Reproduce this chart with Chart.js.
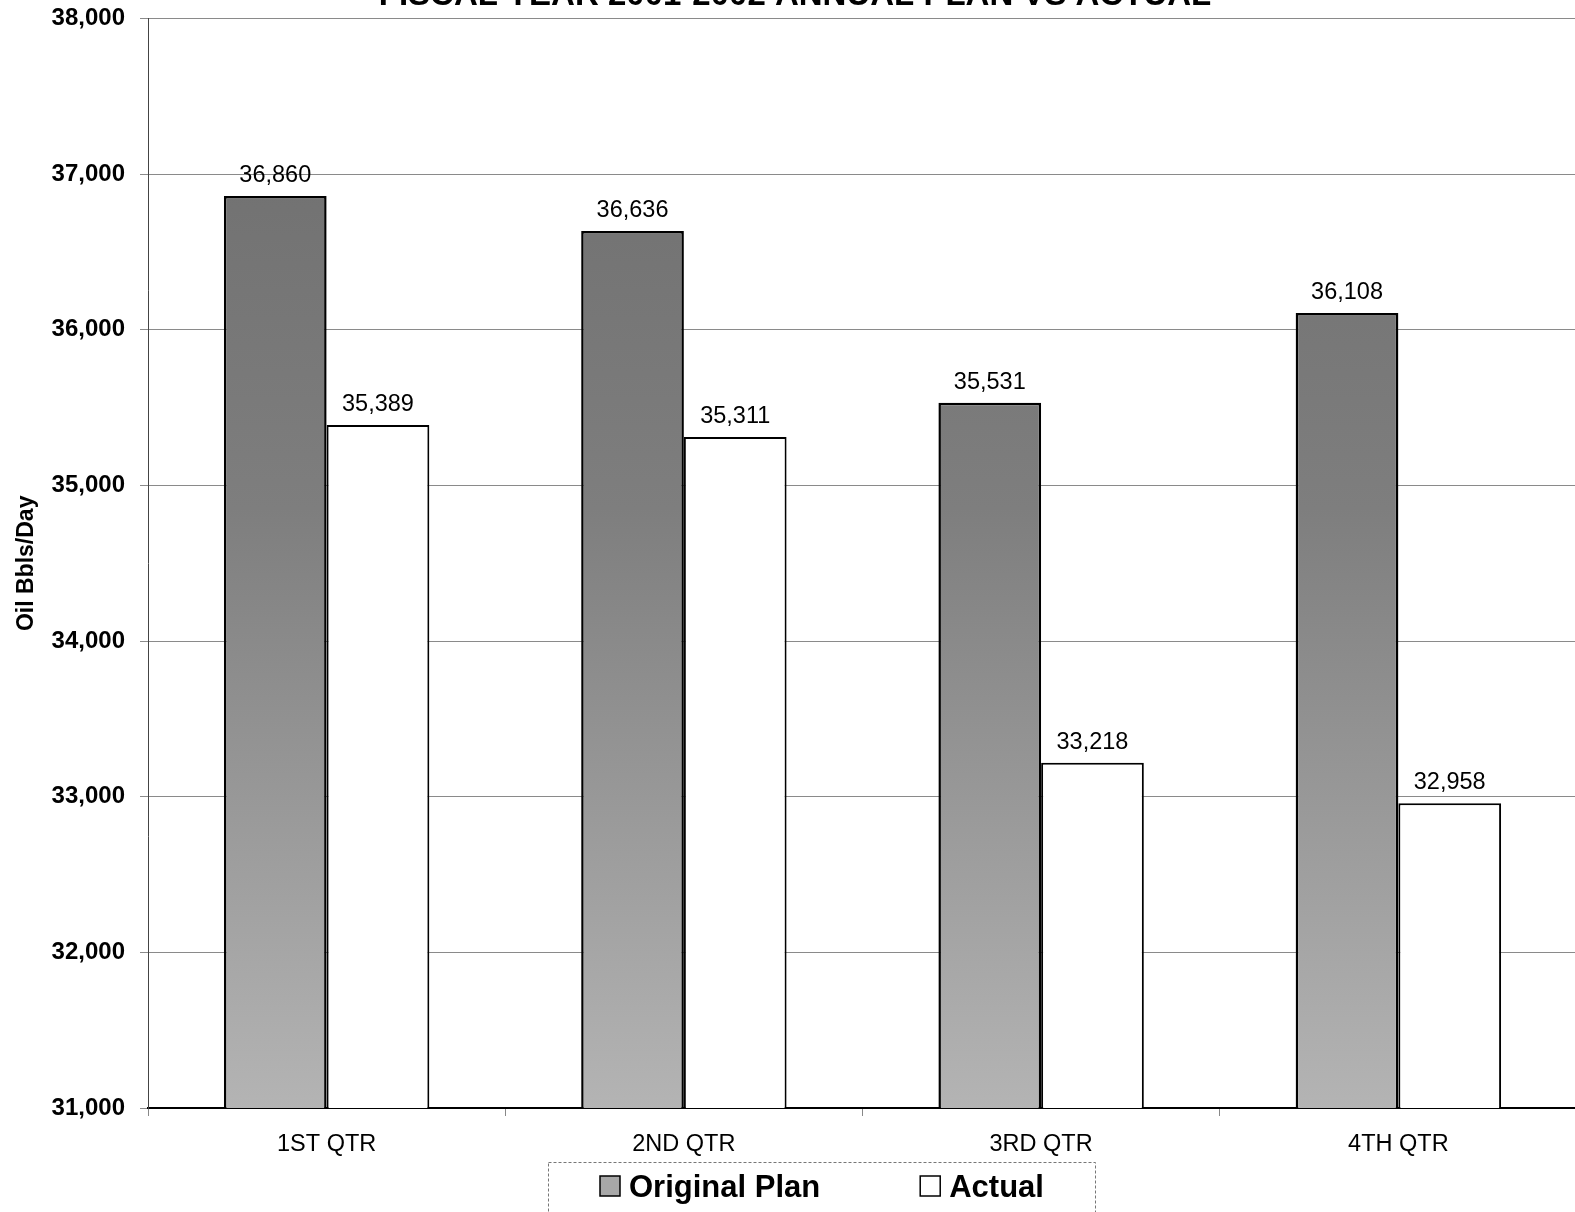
<!DOCTYPE html>
<html>
<head>
<meta charset="utf-8">
<script src="https://cdn.jsdelivr.net/npm/chart.js@4.4.1/dist/chart.umd.min.js"></script>
<style>
  html, body { margin: 0; padding: 0; background: #fff; overflow: hidden; }
  #wrap { position: absolute; left: 0; top: 0; width: 1577px; height: 1240px; }
</style>
</head>
<body>
<div id="wrap"><canvas id="chart1" width="1577" height="1240"></canvas></div>
<script>
// chart data
const chartTitle = "FISCAL YEAR 2001-2002 ANNUAL PLAN VS ACTUAL";
const quarters = ["1ST QTR", "2ND QTR", "3RD QTR", "4TH QTR"];
const originalPlan = [36860, 36636, 35531, 36108];
const actual = [35389, 35311, 33218, 32958];
const yTicks = [31000, 32000, 33000, 34000, 35000, 36000, 37000, 38000];

const FONT = "'Liberation Sans', Arial, sans-serif";

// gray shading for the plan bars, darker near the top
function planFill(context) {
  const area = context.chart.chartArea;
  if (!area) return "#8c8c8c";
  const g = context.chart.ctx.createLinearGradient(0, area.top, 0, area.bottom);
  g.addColorStop(0, "#6c6c6c");
  g.addColorStop(0.45, "#7e7e7e");
  g.addColorStop(1, "#b4b4b4");
  return g;
}

// value labels above bars
const valueLabels = {
  id: "valueLabels",
  afterDatasetsDraw(chart) {
    const ctx = chart.ctx;
    ctx.save();
    ctx.font = "23.5px " + FONT;
    ctx.fillStyle = "#000";
    ctx.textAlign = "center";
    ctx.textBaseline = "alphabetic";
    chart.data.datasets.forEach((ds, i) => {
      chart.getDatasetMeta(i).data.forEach((bar, j) => {
        ctx.fillText(ds.data[j].toLocaleString("en-US"), bar.x, bar.y - 14);
      });
    });
    ctx.restore();
  }
};

// title (cut off at top) and boxed legend at bottom
const extras = {
  id: "extras",
  afterDraw(chart) {
    const ctx = chart.ctx;
    ctx.save();
    ctx.font = "bold 33px " + FONT;
    ctx.fillStyle = "#000";
    ctx.textAlign = "center";
    ctx.textBaseline = "alphabetic";
    ctx.fillText(chartTitle, 795, 5);

    // legend box
    ctx.strokeStyle = "#777";
    ctx.lineWidth = 1;
    ctx.setLineDash([3, 2]);
    ctx.strokeRect(548.5, 1162.5, 547, 80);
    ctx.setLineDash([]);

    ctx.font = "bold 31px " + FONT;
    ctx.textAlign = "left";
    let x = 600;
    chart.data.datasets.forEach((ds, i) => {
      ctx.fillStyle = i === 0 ? "#a8a8a8" : "#fff";
      ctx.fillRect(x, 1176, 20, 20);
      ctx.strokeStyle = "#000";
      ctx.lineWidth = 1.5;
      ctx.strokeRect(x, 1176, 20, 20);
      ctx.fillStyle = "#000";
      ctx.fillText(ds.label, x + 29, 1197);
      x += 29 + ctx.measureText(ds.label).width + 100;
    });
    ctx.restore();
  }
};

const ctx = document.getElementById("chart1").getContext("2d");
const myChart = new Chart(ctx, {
  type: "bar",
  data: {
    labels: quarters,
    datasets: [
      {
        label: "Original Plan",
        data: originalPlan,
        backgroundColor: planFill,
        borderColor: "#000",
        borderWidth: 2.5,
        borderSkipped: false,
        categoryPercentage: 0.575,
        barPercentage: 1,
      },
      {
        label: "Actual",
        data: actual,
        backgroundColor: "#fff",
        borderColor: "#000",
        borderWidth: 2,
        borderSkipped: false,
        categoryPercentage: 0.575,
        barPercentage: 1,
      },
    ],
  },
  options: {
    responsive: false,
    devicePixelRatio: 1,
    animation: false,
    layout: { padding: { top: 18, left: 0, right: 0, bottom: 0 } },
    plugins: {
      legend: { display: false },
      title: { display: false },
      tooltip: { enabled: false },
    },
    scales: {
      x: {
        grid: {
          offset: true,
          drawOnChartArea: false,
          drawTicks: true,
          tickLength: 8,
          color: "#888",
        },
        border: { color: "#000", width: 2 },
        ticks: {
          color: "#000",
          font: { family: FONT, size: 23.5 },
          padding: 14,
          maxRotation: 0,
        },
        afterFit(scale) { scale.height = 132; },
      },
      y: {
        min: 31000,
        max: 38000,
        afterBuildTicks(scale) {
          scale.ticks = yTicks.map(v => ({ value: v }));
        },
        grid: {
          color: "#8a8a8a",
          lineWidth: 1,
          tickLength: 8,
        },
        border: { color: "#444", width: 1 },
        ticks: {
          color: "#000",
          font: { family: FONT, size: 24, weight: "bold", lineHeight: 0.3 },
          padding: 15,
          callback: v => v.toLocaleString("en-US"),
        },
        title: {
          display: true,
          text: "Oil Bbls/Day",
          color: "#000",
          font: { family: FONT, size: 23, weight: "bold" },
          padding: { top: 13, bottom: 0 },
        },
        afterFit(scale) { scale.width = 148; },
      },
    },
  },
  plugins: [valueLabels, extras],
});
</script>
</body>
</html>
